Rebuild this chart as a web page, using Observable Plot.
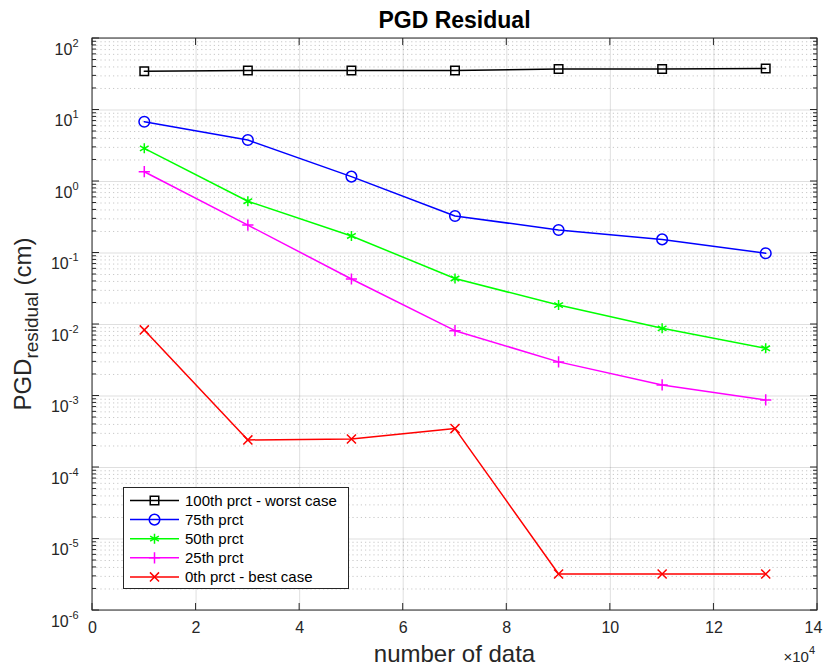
<!DOCTYPE html>
<html><head><meta charset="utf-8">
<script src="https://cdn.jsdelivr.net/npm/d3@7"></script>
<script src="https://cdn.jsdelivr.net/npm/@observablehq/plot@0.6"></script>
<style>body{margin:0;background:#fff;} svg{display:block}</style>
</head><body><div id="chart"></div>
<script>
// ---- data ----
const xValues = [10000, 30000, 50000, 70000, 90000, 110000, 130000];
const worstCase = [34.7, 35.7, 35.7, 35.7, 37.4, 37.4, 38.0];
const prct75 = [6.86, 3.8, 1.17, 0.33, 0.21, 0.155, 0.099];
const prct50 = [2.91, 0.53, 0.173, 0.044, 0.0187, 0.00885, 0.00465];
const prct25 = [1.37, 0.246, 0.0433, 0.0082, 0.0030, 0.00143, 0.00088];
const bestCase = [0.0084, 2.43e-4, 2.5e-4, 3.5e-4, 3.24e-6, 3.24e-6, 3.24e-6];
const seriesNames = ["100th prct - worst case", "75th prct", "50th prct", "25th prct", "0th prct - best case"];
const seriesValues = [worstCase, prct75, prct50, prct25, bestCase];
const seriesColors = ["#000000", "#0000ff", "#00ff00", "#ff00ff", "#ff0000"];
const seriesSymbols = ["square", "circle", "asterisk", "plus", "times"];
const xTicks = [0, 20000, 40000, 60000, 80000, 100000, 120000, 140000];
const yTicks = [1e-6, 1e-5, 1e-4, 1e-3, 1e-2, 1e-1, 1e0, 1e1, 1e2];
const titleText = "PGD Residual";
const xLabel = "number of data";

// ---- style ----
const FONT = "'Liberation Sans', Arial, Helvetica, sans-serif";
const INK = "#262626";
const markerR = [4.8, 5.3, 4.75, 3.7, 4.2];
const W = 824, H = 669, ML = 92, MT = 38, MR = 7, MB = 59;

const yMinor = [];
for (let i = 0; i < yTicks.length - 1; i++) for (let k = 2; k <= 9; k++) yMinor.push(yTicks[i] * k);

const rows = [];
seriesValues.forEach((vals, s) => vals.forEach((v, i) => rows.push({x: xValues[i], y: v, s})));

const marks = [
  Plot.gridY({ticks: yMinor, stroke: INK, strokeOpacity: 0.25, strokeDasharray: "1.2,3"}),
  Plot.gridX({ticks: xTicks, stroke: INK, strokeOpacity: 0.15}),
  Plot.gridY({ticks: yTicks, stroke: INK, strokeOpacity: 0.15}),
  Plot.axisX({ticks: xTicks, tickFormat: d => String(d / 1e4), tickSize: 0, tickPadding: 11, fontSize: 16, color: INK, label: null}),
  Plot.axisY({ticks: yTicks, tickFormat: d => "10|" + Math.round(Math.log10(d)), tickSize: 0, tickPadding: 14, fontSize: 16, color: INK, label: null})
];
seriesValues.forEach((vals, s) => {
  const data = rows.filter(r => r.s === s);
  marks.push(Plot.line(data, {x: "x", y: "y", stroke: seriesColors[s], strokeWidth: 1.5}));
  marks.push(Plot.dot(data, {x: "x", y: "y", symbol: seriesSymbols[s], r: markerR[s], fill: "none", stroke: seriesColors[s], strokeWidth: 1.5}));
});

const plot = Plot.plot({
  width: W, height: H,
  marginLeft: ML, marginTop: MT, marginRight: MR, marginBottom: MB,
  style: {fontFamily: FONT, background: "#fff", color: INK, overflow: "visible"},
  x: {domain: [0, 140000]},
  y: {type: "log", domain: [1e-6, 1e2]},
  marks
});
document.getElementById("chart").appendChild(plot);

const svg = d3.select(plot);
const xs = plot.scale("x"), ys = plot.scale("y");
const x0 = xs.apply(0), x1 = xs.apply(140000), y0 = ys.apply(1e2), y1 = ys.apply(1e-6);

// superscript tick labels
svg.selectAll('g[aria-label="y-axis tick label"] text').each(function () {
  const t = d3.select(this);
  const [base, exp] = t.text().split("|");
  t.text(null).attr("dy", null);
  t.append("tspan").attr("dy", 11).text(base);
  t.append("tspan").attr("dy", -8).attr("font-size", 11).text(exp);
});
// keep the last x tick label inside the picture
const xLabels = svg.selectAll('g[aria-label="x-axis tick label"] text').nodes();
if (xLabels.length) d3.select(xLabels[xLabels.length - 1]).attr("dx", -4);

// box + ticks
const g = svg.append("g").attr("stroke", INK).attr("stroke-width", 1).attr("fill", "none");
g.append("rect").attr("x", x0).attr("y", y0).attr("width", x1 - x0).attr("height", y1 - y0);
xTicks.forEach(t => {
  const px = xs.apply(t);
  g.append("line").attr("x1", px).attr("x2", px).attr("y1", y1).attr("y2", y1 - 7);
  g.append("line").attr("x1", px).attr("x2", px).attr("y1", y0).attr("y2", y0 + 7);
});
yTicks.forEach(t => {
  const py = ys.apply(t);
  g.append("line").attr("x1", x0).attr("x2", x0 + 7).attr("y1", py).attr("y2", py);
  g.append("line").attr("x1", x1).attr("x2", x1 - 7).attr("y1", py).attr("y2", py);
});
yMinor.forEach(t => {
  const py = ys.apply(t);
  g.append("line").attr("x1", x0).attr("x2", x0 + 4).attr("y1", py).attr("y2", py);
  g.append("line").attr("x1", x1).attr("x2", x1 - 4).attr("y1", py).attr("y2", py);
});

// title and labels
const cx = (x0 + x1) / 2, cy = (y0 + y1) / 2;
svg.append("text").attr("x", cx).attr("y", 28).attr("text-anchor", "middle")
  .attr("font-family", FONT).attr("font-size", 23).attr("font-weight", "bold").attr("fill", "#000").text(titleText);
svg.append("text").attr("x", cx).attr("y", 662).attr("text-anchor", "middle")
  .attr("font-family", FONT).attr("font-size", 24).attr("fill", INK).text(xLabel);
const mult = svg.append("text").attr("x", 815).attr("y", 662).attr("text-anchor", "end")
  .attr("font-family", FONT).attr("font-size", 15).attr("fill", INK);
mult.append("tspan").text("\u00d710");
mult.append("tspan").attr("dy", -8).attr("font-size", 11).text("4");
const yl = svg.append("text").attr("transform", `translate(31,${cy}) rotate(-90)`).attr("text-anchor", "middle")
  .attr("font-family", FONT).attr("font-size", 24).attr("fill", INK);
yl.append("tspan").text("PGD");
yl.append("tspan").attr("dy", 7).attr("font-size", 19).text("residual");
yl.append("tspan").attr("dy", -7).text(" (cm)");

// legend
const symMap = {square: d3.symbolSquare, circle: d3.symbolCircle, asterisk: d3.symbolAsterisk, plus: d3.symbolPlus, times: d3.symbolTimes};
const lg = svg.append("g").attr("font-family", FONT).attr("font-size", 15).attr("text-anchor", "start");
lg.append("rect").attr("x", 123.5).attr("y", 487.5).attr("width", 225).attr("height", 101)
  .attr("fill", "#fff").attr("stroke", INK).attr("stroke-width", 1);
seriesNames.forEach((name, i) => {
  const ry = 500.5 + i * 19.1;
  lg.append("line").attr("x1", 130).attr("x2", 179).attr("y1", ry).attr("y2", ry)
    .attr("stroke", seriesColors[i]).attr("stroke-width", 1.5);
  lg.append("path").attr("transform", `translate(154.5,${ry})`)
    .attr("d", d3.symbol(symMap[seriesSymbols[i]], Math.PI * markerR[i] * markerR[i])())
    .attr("fill", "none").attr("stroke", seriesColors[i]).attr("stroke-width", 1.5);
  lg.append("text").attr("x", 185).attr("y", ry).attr("dy", "0.35em").attr("text-anchor", "start").attr("fill", "#000").text(name);
});
</script>
</body></html>
